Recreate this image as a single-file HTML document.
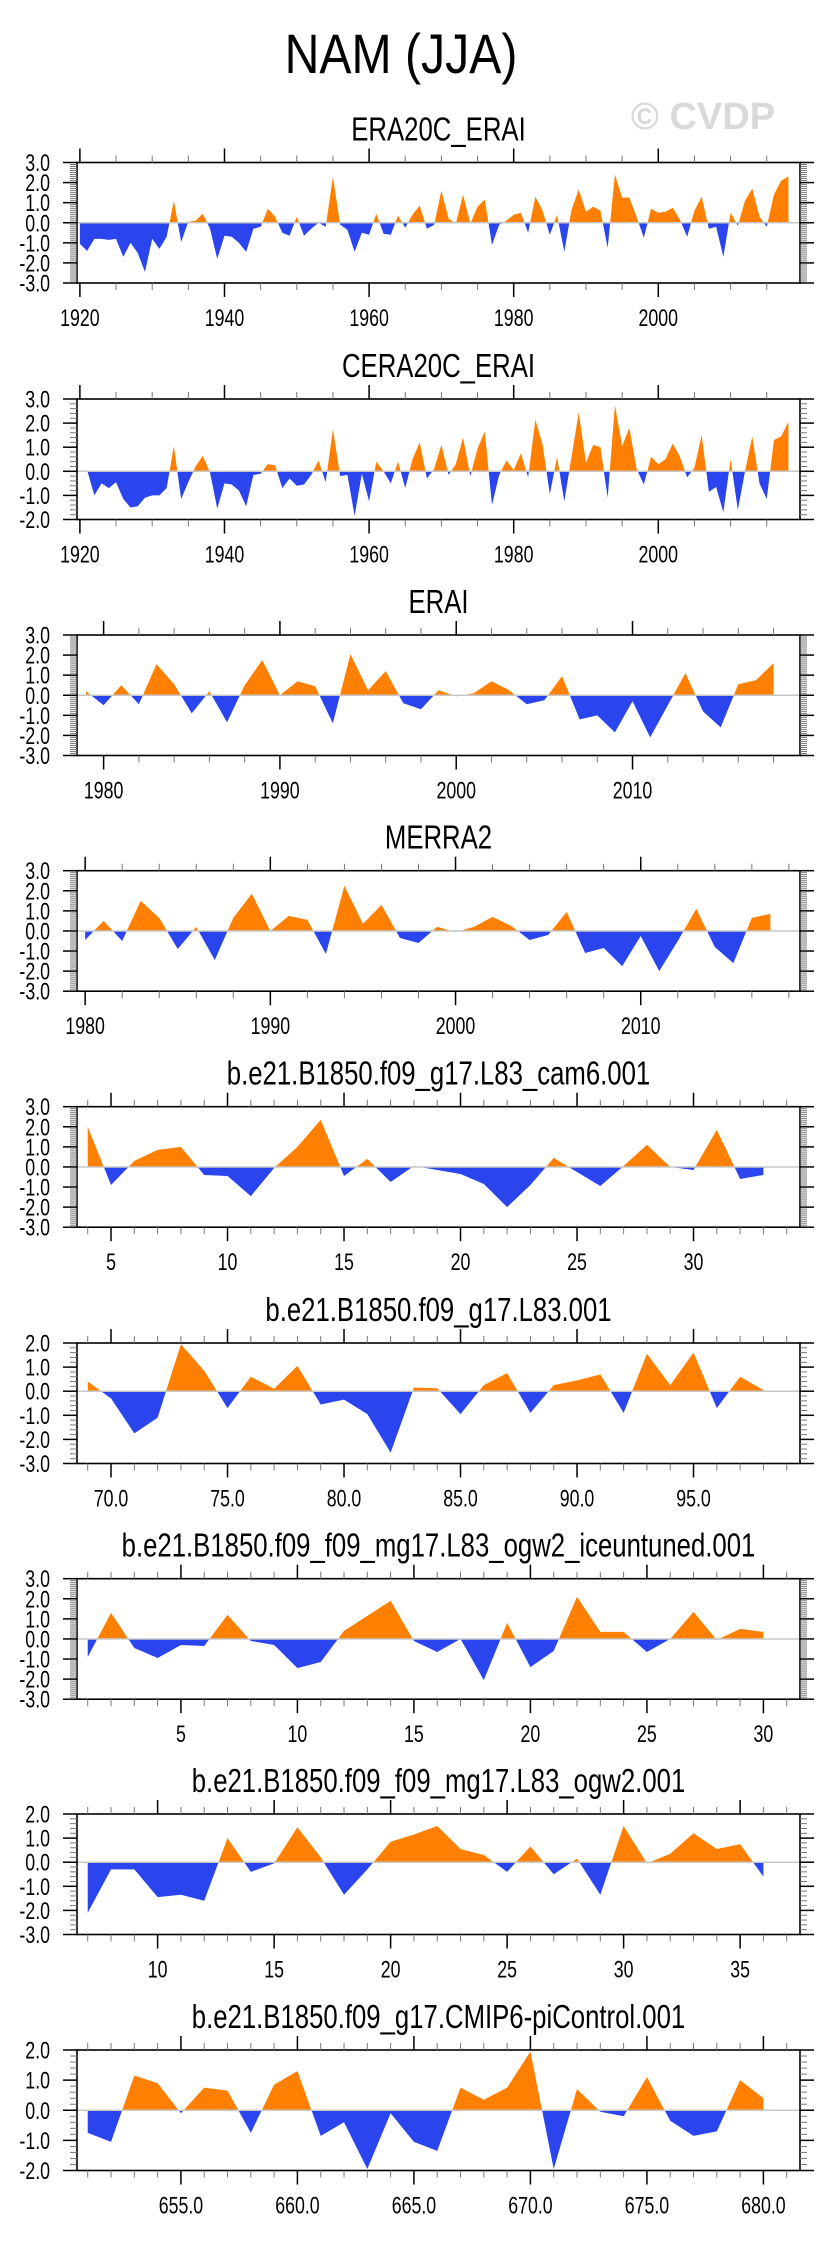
<!DOCTYPE html>
<html><head><meta charset="utf-8"><title>NAM (JJA)</title>
<style>
html,body{margin:0;padding:0;background:#fff;}
svg{display:block;font-family:"Liberation Sans",Arial,sans-serif;}
</style></head>
<body>
<svg id="chart" width="829" height="2245" viewBox="0 0 829 2245" xmlns="http://www.w3.org/2000/svg">
<text transform="translate(401,73) scale(0.86,1)" x="0" y="0" font-size="56" text-anchor="middle" fill="#000">NAM (JJA)</text>
<text x="703" y="129" font-size="38" font-weight="bold" text-anchor="middle" fill="#d9d9d9">© CVDP</text>
</svg>
<script>
const titles = ["ERA20C_ERAI","CERA20C_ERAI","ERAI","MERRA2","b.e21.B1850.f09_g17.L83_cam6.001","b.e21.B1850.f09_g17.L83.001","b.e21.B1850.f09_f09_mg17.L83_ogw2_iceuntuned.001","b.e21.B1850.f09_f09_mg17.L83_ogw2.001","b.e21.B1850.f09_g17.CMIP6-piControl.001"];
const startYears = [1920,1921,1979,1980,4,69,1,7,651];
const vals1 = [-1.05,-1.4,-0.8,-0.8,-0.85,-0.8,-1.7,-1.0,-1.5,-2.45,-0.8,-1.3,-0.7,1.1,-0.95,0.05,0.1,0.45,-0.3,-1.8,-0.65,-0.7,-1.0,-1.45,-0.3,-0.2,0.7,0.3,-0.5,-0.65,0.3,-0.65,-0.3,0,-0.2,2.3,-0.1,-0.35,-1.45,-0.5,-0.6,0.45,-0.55,-0.6,0.35,-0.25,0.4,0.85,-0.3,-0.1,1.6,0.2,-0.05,1.4,-0.05,0.8,1.15,-1.1,-0.1,0.1,0.4,0.5,-0.5,1.3,0.6,-0.6,0.4,-1.45,0.65,1.65,0.55,0.8,0.6,-1.25,2.4,1.25,1.25,0.3,-0.75,0.7,0.5,0.55,0.75,0.15,-0.7,0.6,1.3,-0.3,-0.2,-1.7,0.5,-0.15,1.1,1.7,0.3,-0.2,1.4,2.1,2.3];
const vals2 = [0.05,-1.0,-0.5,-0.7,-0.45,-1.15,-1.5,-1.45,-1.1,-1.0,-1.0,-0.7,1.05,-1.15,-0.45,0.2,0.65,-0.05,-1.55,-0.5,-0.55,-0.8,-1.45,-0.15,-0.1,0.3,0.25,-0.7,-0.3,-0.6,-0.55,-0.15,0.45,-0.45,1.75,-0.2,-0.15,-1.85,-0.1,-1.25,0.4,0,-0.5,0.4,-0.7,0.5,1.2,-0.3,0.1,1.1,-0.15,0.3,1.4,-0.2,0.95,1.65,-1.4,-0.15,0.45,0.05,0.75,-0.25,2.15,1.1,-0.95,0.6,-1.25,0.6,2.45,0.35,1.1,1.0,-1.1,2.75,1.05,1.8,0.1,-0.55,0.6,0.3,0.5,1.15,0.6,-0.25,0.15,1.5,-0.85,-0.65,-1.7,0.5,-1.6,0,1.45,-0.5,-1.15,1.3,1.45,2.05];
const vals3 = [0.2,-0.5,0.5,-0.45,1.55,0.55,-0.9,0.2,-1.35,0.5,1.75,0,0.7,0.45,-1.4,2.05,0.25,1.2,-0.4,-0.7,0.25,-0.05,0.1,0.7,0.25,-0.45,-0.25,0.95,-1.2,-1.0,-1.85,-0.3,-2.1,-0.5,1.1,-0.8,-1.6,0.55,0.75,1.6];
const vals4 = [-0.45,0.5,-0.5,1.5,0.65,-0.9,0.2,-1.45,0.65,1.85,0,0.75,0.55,-1.15,2.25,0.35,1.3,-0.35,-0.6,0.2,-0.05,0.2,0.7,0.25,-0.45,-0.2,0.95,-1.1,-0.85,-1.75,-0.25,-2.0,-0.5,1.1,-0.8,-1.6,0.65,0.85];
const vals5 = [2.0,-0.9,0.3,0.85,1.0,-0.4,-0.45,-1.45,-0.05,1.0,2.35,-0.45,0.4,-0.75,0.05,-0.15,-0.35,-0.85,-2.0,-0.9,0.45,-0.25,-0.95,0.05,1.1,0,-0.15,1.85,-0.6,-0.4];
const vals6 = [0.4,-0.3,-1.75,-1.1,1.95,0.85,-0.7,0.6,0.1,1.05,-0.55,-0.35,-0.95,-2.55,0.15,0.12,-0.95,0.25,0.75,-0.9,0.25,0.45,0.7,-0.9,1.55,0.25,1.6,-0.7,0.6,0.05];
const vals7 = [-0.9,1.3,-0.45,-0.95,-0.3,-0.35,1.2,-0.1,-0.3,-1.45,-1.15,0.4,1.15,1.9,-0.1,-0.65,0,-2.05,0.8,-1.4,-0.6,2.1,0.35,0.35,-0.65,0,1.35,-0.05,0.5,0.35];
const vals8 = [-2.1,-0.3,-0.3,-1.45,-1.35,-1.6,1.0,-0.4,-0.05,1.45,0.2,-1.35,-0.3,0.85,1.15,1.5,0.55,0.3,-0.4,0.65,-0.5,0.15,-1.35,1.5,-0.05,0.35,1.2,0.55,0.75,-0.6];
const vals9 = [-0.75,-1.05,1.15,0.9,-0.1,0.75,0.65,-0.75,0.85,1.3,-0.85,-0.4,-1.95,-0.1,-1.05,-1.35,0.75,0.35,0.75,1.95,-1.95,0.7,-0.05,-0.2,1.1,-0.35,-0.85,-0.7,1.0,0.4];
const allVals = [vals1,vals2,vals3,vals4,vals5,vals6,vals7,vals8,vals9];
const yMaxes = [3,3,3,3,3,2,3,2,2];
const yMins = [-3,-2,-3,-3,-3,-3,-3,-3,-2];
const xMajorSteps = [20,20,10,10,5,5,5,5,5];
const xMinorSteps = [5,5,2,2,1,1,1,1,1];
const xLabelDecimals = [0,0,0,0,0,1,0,0,1];

const NS = "http://www.w3.org/2000/svg";
const svg = document.getElementById("chart");
const tops = [162.5,399,635,870.7,1106.7,1343,1578.7,1814,2050];
const X0 = 77, X1 = 800, H = 120.5;
function mk(tag, attrs, parent){
  const e = document.createElementNS(NS, tag);
  for (const k in attrs) e.setAttribute(k, attrs[k]);
  (parent||svg).appendChild(e);
  return e;
}
for (let p = 0; p < 9; p++) {
  const vals = allVals[p];
  const s0 = startYears[p];
  const n = vals.length;
  let xmin, xmax;
  if (p < 2) { xmin = 1919.6; xmax = 2019.6; }
  else if (p === 2) { xmin = 1978.49; xmax = 2019.5; }
  else if (p === 3) { xmin = 1979.56; xmax = 2018.6; }
  else { xmin = s0 - 0.46; xmax = s0 + 30.57; }
  const top = tops[p], bot = top + H;
  const ymax = yMaxes[p], ymin = yMins[p];
  const xs = v => X0 + (v - xmin) / (xmax - xmin) * (X1 - X0);
  const ys = v => top + (ymax - v) / (ymax - ymin) * H;
  const g = mk("g", {});
  
  
  const t = mk("text", {x:0, y:0, transform:"translate("+((X0+X1)/2)+","+(top-22)+") scale(0.78,1)", "font-size":33, "text-anchor":"middle", fill:"#000"}, g);
  t.textContent = titles[p];
  
  
  const cidU = "cu"+p, cidD = "cd"+p;
  const defs = mk("defs", {}, g);
  const cu = mk("clipPath", {id:cidU}, defs);
  mk("rect", {x:X0, y:top, width:X1-X0, height:ys(0)-top}, cu);
  const cd = mk("clipPath", {id:cidD}, defs);
  mk("rect", {x:X0, y:ys(0), width:X1-X0, height:bot-ys(0)}, cd);
  let pts = xs(s0).toFixed(2)+","+ys(0).toFixed(2)+" ";
  for (let i = 0; i < n; i++) pts += xs(s0+i).toFixed(2)+","+ys(vals[i]).toFixed(2)+" ";
  pts += xs(s0+n-1).toFixed(2)+","+ys(0).toFixed(2);
  const pos = mk("polygon", {points:pts, fill:"#ff8000", "clip-path":"url(#"+cidU+")"}, g);
  
  
  const neg = mk("polygon", {points:pts, fill:"#2a45ee", "clip-path":"url(#"+cidD+")"}, g);
  
  
  const zl = mk("line", {x1:X0, x2:X1, y1:ys(0), y2:ys(0), stroke:"#c8c8c8", "stroke-width":1.5}, g);
  
  
  const fr = mk("rect", {x:X0, y:top, width:X1-X0, height:H, fill:"none", stroke:"#000", "stroke-width":1.6}, g);
  
  
  const ppu = H/(ymax-ymin);
  const ymin_step = ppu <= 21 ? 0.1 : 0.2;
  const nMinor = Math.round((ymax-ymin)/ymin_step);
  for (let k = 0; k <= nMinor; k++) {
    const v = ymin + k*ymin_step;
    const y = ys(v);
    const major = Math.abs(v - Math.round(v)) < 1e-6;
    const len = major ? 14 : 7;
    mk("line", {x1:X0-len, x2:X0, y1:y, y2:y, stroke:major?"#000":"#777", "stroke-width":major?1.5:1}, g);
    mk("line", {x1:X1, x2:X1+len, y1:y, y2:y, stroke:major?"#000":"#777", "stroke-width":major?1.5:1}, g);
    if (major) {
      const lb = mk("text", {x:0, y:0, transform:"translate(50,"+(y+8.5)+") scale(0.74,1)", "font-size":24, "text-anchor":"end", fill:"#000"}, g);
      lb.textContent = Math.round(v).toFixed(1);
      
      
    }
  }
  const mn = xMinorSteps[p], mj = xMajorSteps[p];
  for (let v = Math.ceil(xmin/mn)*mn; v <= xmax; v += mn) {
    const x = xs(v);
    const major = v % mj === 0;
    const len = major ? 14 : 7;
    mk("line", {x1:x, x2:x, y1:top-len, y2:top, stroke:major?"#000":"#777", "stroke-width":major?1.5:1}, g);
    mk("line", {x1:x, x2:x, y1:bot, y2:bot+len, stroke:major?"#000":"#777", "stroke-width":major?1.5:1}, g);
    if (major) {
      const lb = mk("text", {x:0, y:0, transform:"translate("+x+","+(bot+43)+") scale(0.74,1)", "font-size":24, "text-anchor":"middle", fill:"#000"}, g);
      lb.textContent = v.toFixed(xLabelDecimals[p]);
      
      
    }
  }
}
</script>
</body></html>
